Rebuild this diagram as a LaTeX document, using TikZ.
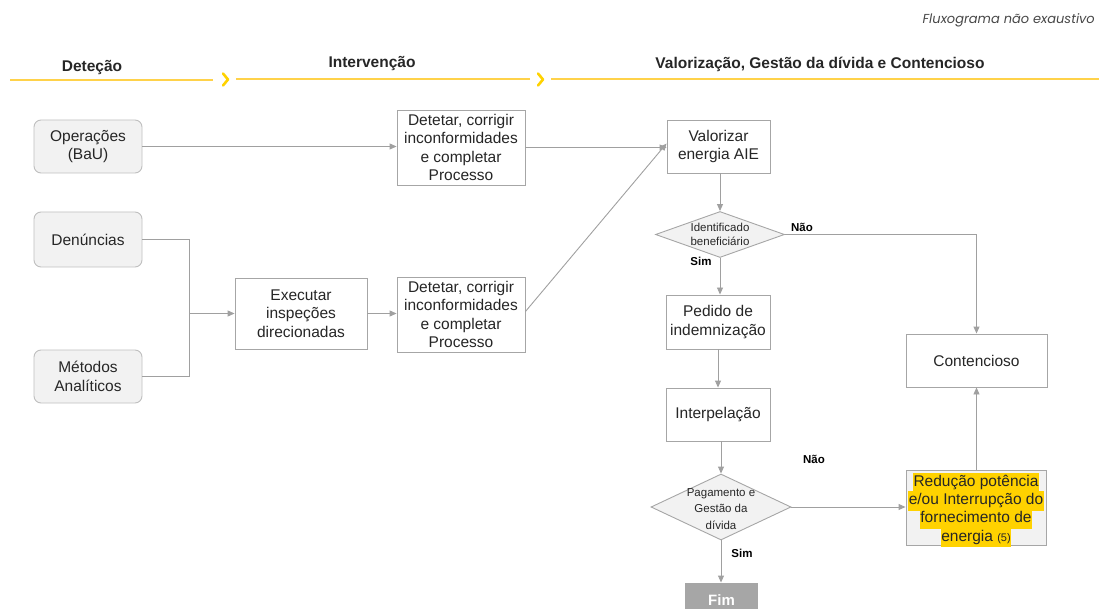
\documentclass[tikz,border=0pt]{standalone}
\usepackage{fontspec}
\setmainfont{Liberation Sans}
\newfontfamily\popfont{Poppins}
\usetikzlibrary{arrows.meta,shapes.geometric}
\definecolor{barc}{HTML}{FFD24A}
\definecolor{hl}{HTML}{FFD200}
\definecolor{bord}{HTML}{A6A6A6}
\definecolor{rbord}{HTML}{BFBFBF}
\definecolor{lfill}{HTML}{F2F2F2}
\definecolor{lnc}{HTML}{A0A0A0}
\definecolor{txt}{HTML}{262626}
\newcommand{\hlb}[1]{{\setlength{\fboxsep}{0.4pt}\colorbox{hl}{\strut #1}}}
\begin{document}
\begin{tikzpicture}[x=1pt,y=-1pt,
  base/.style={draw=bord,line width=0.9pt,align=center,text=txt,inner sep=1pt,
    font=\fontsize{15.5}{18.5}\selectfont},
  rbox/.style={base,draw=rbord,fill=lfill,rounded corners=7pt},
  sbox/.style={base,fill=white},
  dia/.style={draw=bord,line width=0.9pt,fill=lfill,diamond,inner sep=0pt},
  dtxt/.style={align=center,text=txt,inner sep=0pt},
  conn/.style={draw=lnc,line width=0.9pt},
  arr/.style={conn,-{Triangle[length=7pt,width=6pt]}},
  lbl/.style={font=\fontsize{11.5}{13}\selectfont\bfseries,text=black,inner sep=0pt},
  hdr/.style={font=\fontsize{15.5}{17}\selectfont\bfseries,text=txt,inner sep=0pt},
  chev/.style={draw=hl,line width=2.6pt,line cap=round,line join=round}
]
\useasboundingbox (0,0) rectangle (1099,609);
% header
\node[anchor=east,inner sep=0pt,text=txt!85] (fx) at (1095,20) {\popfont\itshape\fontsize{13}{15}\selectfont Fluxograma não exaustivo};
\draw[draw=barc,line width=1.8pt] (10,80) -- (213,80);
\draw[draw=barc,line width=1.8pt] (236,79) -- (530,79);
\draw[draw=barc,line width=1.8pt] (551,79) -- (1099,79);
\draw[chev] (223,73.5) -- (228,79.5) -- (223,85.5);
\draw[chev] (538,73.5) -- (543,79.5) -- (538,85.5);
\node[hdr] (h1) at (92,68) {Deteção};
\node[hdr] (h2) at (372,64) {Intervenção};
\node[hdr] (h3) at (820,64) {Valorização, Gestão da dívida e Contencioso};

% left column
\node[rbox,minimum width=108pt,minimum height=53pt] (op) at (88,146.5) {Operações\\(BaU)};
\node[rbox,minimum width=108pt,minimum height=55pt] (den) at (88,239.5) {Denúncias};
\node[rbox,minimum width=108pt,minimum height=53pt] (met) at (88,376.5) {Métodos\\Analíticos};

\node[sbox,minimum width=132pt,minimum height=71pt] (exe) at (301,313.5) {Executar\\inspeções\\direcionadas};
\node[sbox,minimum width=128pt,minimum height=75pt] (d1) at (461,147.5) {Detetar, corrigir\\inconformidades\\e completar\\Processo};
\node[sbox,minimum width=128pt,minimum height=75pt] (d2) at (461,314.5) {Detetar, corrigir\\inconformidades\\e completar\\Processo};

% right column
\node[sbox,minimum width=103pt,minimum height=53pt] (val) at (718.5,146.5) {Valorizar\\energia AIE};
\node[dia,minimum width=129pt,minimum height=46pt] (idb) at (720,234.5) {};
\node[dtxt,font=\fontsize{11.5}{14}\selectfont] (idbt) at (720,234.5) {Identificado\\beneficiário};
\node[sbox,minimum width=104pt,minimum height=54pt] (ped) at (718,322) {Pedido de\\indemnização};
\node[sbox,minimum width=104pt,minimum height=53pt] (int) at (718,414.5) {Interpelação};
\node[dia,minimum width=140pt,minimum height=66pt] (pag) at (721,507) {};
\node[dtxt,font=\fontsize{11.5}{16.5}\selectfont] (pagt) at (721,509) {Pagamento e\\Gestão da\\dívida};
\node[base,draw=none,fill=bord,text=white,minimum width=73pt,minimum height=34pt,font=\fontsize{15}{17}\selectfont\bfseries] (fim) at (721.5,600) {Fim};
\node[sbox,minimum width=141pt,minimum height=53pt] (con) at (976.5,360.5) {Contencioso};
\node[base,fill=lfill,minimum width=140pt,minimum height=75pt] (red) at (976,507.5) {};
\node[dtxt,font=\fontsize{15.5}{18.5}\selectfont] (redt) at (976,510)
  {\hlb{Redução potência}\\[-2pt]\hlb{e/ou Interrupção do}\\[-2pt]\hlb{fornecimento de}\\[-2pt]\hlb{energia {\fontsize{11}{12}\selectfont(5)}}};

% connectors
\draw[arr] (op.east) -- (d1.west |- op.east);
\coordinate (jt) at (189,239.5);
\coordinate (jb) at (189,376.5);
\coordinate (jm) at (189,313.5);
\draw[conn] (den.east) -- (jt) -- (jb) -- (met.east);
\draw[arr] (jm) -- (exe.west);
\draw[arr] (exe.east) -- (d2.west |- exe.east);
\draw[arr] (d1.east) -- (val.west |- d1.east);
\coordinate (vin) at ([yshift=3pt]val.west);
\draw[arr] ([yshift=3pt]d2.east) -- (vin);
\draw[arr] (val.south -| idb.north) -- (idb.north);
\coordinate (cr) at (con.north |- idb.east);
\draw[arr] (idb.east) -- (cr) -- (con.north);
\draw[arr] (idb.south) -- (ped.north -| idb.south);
\draw[arr] (ped.south) -- (int.north);
\draw[arr] (int.south -| pag.north) -- (pag.north);
\draw[arr] (pag.east) -- (red.west |- pag.east);
\draw[arr] (pag.south) -- (fim.north -| pag.south);
\draw[arr] (red.north -| con.south) -- (con.south);

% labels
\node[lbl] (n1) at (802,227) {Não};
\node[lbl] (s1) at (701,261) {Sim};
\node[lbl] (n2) at (814,459) {Não};
\node[lbl] (s2) at (742,553) {Sim};
\end{tikzpicture}
\end{document}
